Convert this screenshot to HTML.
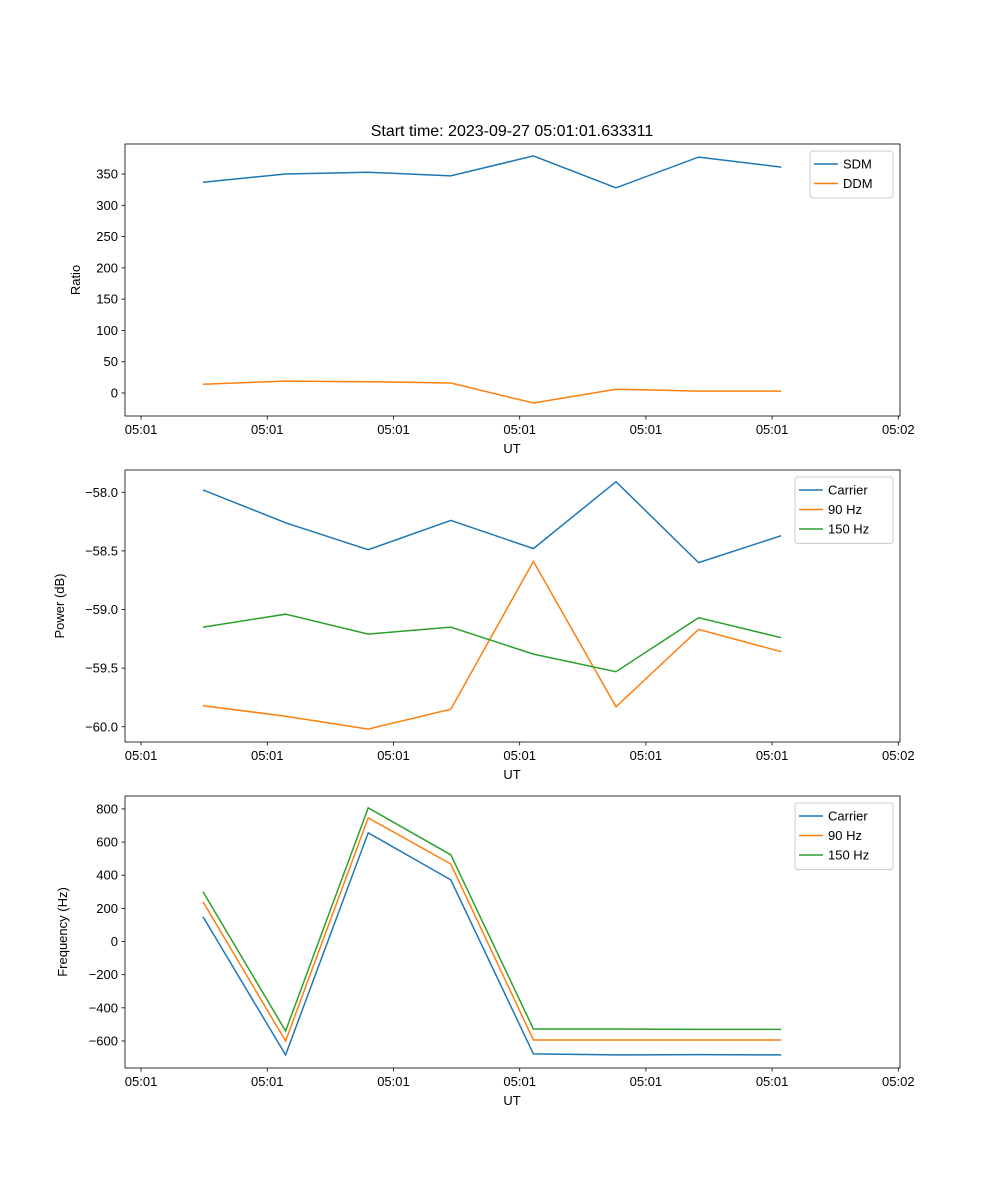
<!DOCTYPE html>
<html><head><meta charset="utf-8"><style>
body{margin:0;background:#fff}
svg{display:block;font-family:"Liberation Sans","DejaVu Sans",sans-serif}
</style></head><body>
<svg id="fig" width="1000" height="1200" viewBox="0 0 1000 1200">
<text x="512" y="136" font-size="16" text-anchor="middle">Start time: 2023-09-27 05:01:01.633311</text>
</svg>
<script>
const xIdx = [0,1,2,3,4,5,6,7];
const xTickVals = [-0.75,0.778,2.306,3.834,5.362,6.89,8.418];
const xTickLabels = ["05:01","05:01","05:01","05:01","05:01","05:01","05:02"];
const sdm = [337,350,353,347,379,328,377,361];
const ddm = [14,19,18,16,-16,6,3,3];
const pCarrier = [-57.98,-58.26,-58.49,-58.24,-58.48,-57.91,-58.60,-58.37];
const p90 = [-59.82,-59.91,-60.02,-59.85,-58.59,-59.83,-59.17,-59.36];
const p150 = [-59.15,-59.04,-59.21,-59.15,-59.38,-59.53,-59.07,-59.24];
const fCarrier = [149,-684,656,372,-678,-684,-682,-684];
const f90 = [240,-600,746,468,-594,-594,-594,-594];
const f150 = [300,-540,806,523,-528,-528,-530,-530];
const ticks1 = [0,50,100,150,200,250,300,350];
const ticks2 = [-58.0,-58.5,-59.0,-59.5,-60.0];
const ticks3 = [800,600,400,200,0,-200,-400,-600];

const NS="http://www.w3.org/2000/svg";
const svg=document.getElementById('fig');
function el(t,a,p){const e=document.createElementNS(NS,t);for(const k in a)e.setAttribute(k,a[k]);(p||svg).appendChild(e);return e;}
const L=125,R=900;
const xs=v=>203+(v)*82.6;
function panel(id,top,bot,yMin,yMax,ticks,fmt,ylabel,series,legend){
  const g=el('g',{});
  
  
  const ys=v=>bot-(v-yMin)/(yMax-yMin)*(bot-top);
  series.forEach(s=>{
    const pts=s.data.map((v,i)=>xs(xIdx[i]).toFixed(1)+','+ys(v).toFixed(1)).join(' ');
    const pl=el('polyline',{points:pts,fill:'none',stroke:s.color,'stroke-width':1.5},g);
    
    
  });
  const fr=el('rect',{x:L,y:top,width:R-L,height:bot-top,fill:'none',stroke:'#000','stroke-width':0.8},g);
  
  
  xTickVals.forEach((v,i)=>{
    const x=xs(v);
    el('line',{x1:x,x2:x,y1:bot,y2:bot+3.5,stroke:'#000','stroke-width':0.8},g);
    const t=el('text',{x:x,y:bot+18,'font-size':13,'text-anchor':'middle'},g);
    t.textContent=xTickLabels[i];
    
    
  });
  ticks.forEach(v=>{
    const y=ys(v);
    el('line',{x1:L-3.5,x2:L,y1:y,y2:y,stroke:'#000','stroke-width':0.8},g);
    const t=el('text',{x:L-7,y:y+4.5,'font-size':13,'text-anchor':'end'},g);
    t.textContent=fmt(v);
    
    
  });
  const xl=el('text',{x:512,y:bot+37,'font-size':13,'text-anchor':'middle'},g);
  xl.textContent='UT';
  
  
  const cy=(top+bot)/2;
  const yl=el('text',{x:0,y:0,'font-size':13,'text-anchor':'middle',transform:`translate(${legend.ylx},${cy}) rotate(-90)`},g);
  yl.textContent=ylabel;
  
  
  const lg=el('g',{},g);
  
  
  const lx=legend.x, h=series.length*19.5+8;
  el('rect',{x:lx,y:top+7,width:R-7-lx,height:h,rx:3,fill:'#fff',stroke:'#ccc','fill-opacity':0.8},lg);
  series.forEach((s,i)=>{
    const y=top+20+i*19.5;
    el('line',{x1:lx+4,x2:lx+28,y1:y,y2:y,stroke:s.color,'stroke-width':1.5},lg);
    const t=el('text',{x:lx+33,y:y+4.5,'font-size':13},lg);
    t.textContent=s.name;
    
    
  });
}
const B='#1f77b4',O='#ff7f0e',G='#2ca02c';
panel('ratio',144,416,-36.8,398,ticks1,v=>String(v),'Ratio',
  [{key:'sdm',name:'SDM',data:sdm,color:B},{key:'ddm',name:'DDM',data:ddm,color:O}],{x:810,ylx:80});
panel('power',470,742,-60.13,-57.81,ticks2,v=>(v<0?'\u2212':'')+Math.abs(v).toFixed(1),'Power (dB)',
  [{key:'carrier',name:'Carrier',data:pCarrier,color:B},{key:'90hz',name:'90 Hz',data:p90,color:O},{key:'150hz',name:'150 Hz',data:p150,color:G}],{x:795,ylx:64});
panel('frequency',796,1068,-763,878,ticks3,v=>(v<0?'\u2212':'')+Math.abs(v),'Frequency (Hz)',
  [{key:'carrier',name:'Carrier',data:fCarrier,color:B},{key:'90hz',name:'90 Hz',data:f90,color:O},{key:'150hz',name:'150 Hz',data:f150,color:G}],{x:795,ylx:67});
</script>
</body></html>
